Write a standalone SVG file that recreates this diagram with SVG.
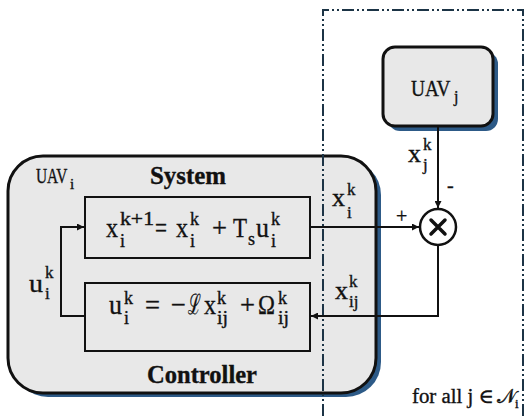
<svg xmlns="http://www.w3.org/2000/svg" width="525" height="416" viewBox="0 0 525 416">
<style>
.tx{font-family:"Liberation Serif","DejaVu Serif",serif;fill:#111;stroke:#111;stroke-width:0.35}
.eq{font-size:28px}
.sc{font-size:18px}
.lb{font-size:26px}
.ls{font-size:17px}
.bd{font-weight:bold;font-size:25px}
.box{fill:#e8e8e8;stroke:#111;stroke-width:2}
.shadow{fill:#2d5a87}
.round{fill:#e8e8e8;stroke:#111;stroke-width:3}
.dd{fill:none;stroke:#1c3446;stroke-width:2;stroke-dasharray:12 3 2 3 2 3}
.ln{fill:none;stroke:#111;stroke-width:2}
</style>
<defs>
<marker id="ah" viewBox="0 0 10 10" refX="10" refY="5" markerWidth="9" markerHeight="7" markerUnits="userSpaceOnUse" orient="auto">
<path d="M0,0 L10,5 L0,10 Z" fill="#111"/>
</marker>
</defs>
<rect width="525" height="416" fill="#ffffff"/>

<g id="uavi">
<rect class="shadow" x="13" y="160" width="368" height="237" rx="35"/>
<rect class="round" x="8" y="156" width="368" height="237" rx="35"/>
<text class="tx" transform="translate(36,183) scale(0.7,1)" font-size="22">UAV</text>
<text class="tx" x="70" y="189" font-size="15">i</text>
<text class="tx bd" x="150" y="184" textLength="76" lengthAdjust="spacingAndGlyphs">System</text>
<text class="tx bd" x="147" y="383" textLength="110" lengthAdjust="spacingAndGlyphs">Controller</text>
</g>

<g id="system">
<rect class="box" x="85" y="197" width="225" height="61"/>
<text class="tx eq" x="106" y="237" textLength="12" lengthAdjust="spacingAndGlyphs">x</text>
<text class="tx sc" x="120" y="247">i</text>
<text class="tx sc" x="120" y="225" textLength="34" lengthAdjust="spacingAndGlyphs">k+1</text>
<text class="tx eq" x="155" y="237" textLength="12" lengthAdjust="spacingAndGlyphs">=</text>
<text class="tx eq" x="176" y="237" textLength="12" lengthAdjust="spacingAndGlyphs">x</text>
<text class="tx sc" x="190" y="247">i</text>
<text class="tx sc" x="190" y="225">k</text>
<text class="tx eq" x="212" y="237" textLength="15" lengthAdjust="spacingAndGlyphs">+</text>
<text class="tx" transform="translate(233,237) scale(0.82,1)" font-size="28">T</text>
<text class="tx sc" x="248" y="245">s</text>
<text class="tx eq" x="256" y="237" textLength="13" lengthAdjust="spacingAndGlyphs">u</text>
<text class="tx sc" x="271" y="247">i</text>
<text class="tx sc" x="271" y="225">k</text>
</g>

<g id="controller">
<rect class="box" x="85" y="283" width="225" height="68"/>
<text class="tx eq" x="109" y="314" textLength="13" lengthAdjust="spacingAndGlyphs">u</text>
<text class="tx sc" x="124" y="324">i</text>
<text class="tx sc" x="124" y="304">k</text>
<text class="tx eq" x="145" y="314" textLength="15" lengthAdjust="spacingAndGlyphs">=</text>
<text class="tx eq" x="171" y="314" textLength="15" lengthAdjust="spacingAndGlyphs">−</text>
<text class="tx" transform="translate(188,314) scale(0.55,1)" font-size="28">ℒ</text>
<text class="tx eq" x="204" y="314" textLength="12" lengthAdjust="spacingAndGlyphs">x</text>
<text class="tx sc" x="217" y="324" textLength="11" lengthAdjust="spacingAndGlyphs">ij</text>
<text class="tx sc" x="217" y="304">k</text>
<text class="tx eq" x="240" y="314" textLength="15" lengthAdjust="spacingAndGlyphs">+</text>
<text class="tx eq" x="258" y="314" textLength="17" lengthAdjust="spacingAndGlyphs">Ω</text>
<text class="tx sc" x="278" y="324" textLength="11" lengthAdjust="spacingAndGlyphs">ij</text>
<text class="tx sc" x="278" y="304">k</text>
</g>

<g id="region">
<path class="dd" d="M323,416 L323,10 L523,10 L523,416"/>
<text class="tx" x="412" y="403" font-size="20" textLength="82" lengthAdjust="spacingAndGlyphs">for all j ∈</text>
<text class="tx" x="497" y="403" font-size="20">𝒩</text>
<text class="tx" x="515" y="408" font-size="13">i</text>
</g>

<g id="uavj">
<rect class="shadow" x="388" y="52" width="110" height="79" rx="12"/>
<rect class="round" x="383" y="47" width="110" height="79" rx="12"/>
<text class="tx" transform="translate(411,96) scale(0.84,1)" font-size="23">UAV</text>
<text class="tx" x="454" y="102" font-size="16">j</text>
</g>

<g id="sum">
<circle cx="438" cy="227" r="18" fill="#ffffff" stroke="#111" stroke-width="2.5"/>
<path d="M431,220 L445,234 M445,220 L431,234" stroke="#111" stroke-width="3.5" stroke-linecap="round"/>
</g>

<g id="connectors">
<path class="ln" d="M438,127 L438,208" marker-end="url(#ah)"/>
<path class="ln" d="M310,227 L419,227" marker-end="url(#ah)"/>
<path class="ln" d="M438,245 L438,316 L311,316" marker-end="url(#ah)"/>
<path class="ln" d="M85,316 L61,316 L61,227 L84,227" marker-end="url(#ah)"/>
<text class="tx lb" x="408" y="162" textLength="13" lengthAdjust="spacingAndGlyphs">x</text>
<text class="tx ls" x="423" y="150">k</text>
<text class="tx ls" x="423" y="170">j</text>
<text class="tx" x="447" y="192" font-size="20">-</text>
<text class="tx lb" x="332" y="206" textLength="13" lengthAdjust="spacingAndGlyphs">x</text>
<text class="tx ls" x="347" y="195">k</text>
<text class="tx ls" x="347" y="218">i</text>
<text class="tx" x="396" y="223" font-size="20">+</text>
<text class="tx lb" x="335" y="299" textLength="13" lengthAdjust="spacingAndGlyphs">x</text>
<text class="tx ls" x="349" y="287">k</text>
<text class="tx ls" x="349" y="307">ij</text>
<text class="tx lb" x="29" y="292" textLength="14" lengthAdjust="spacingAndGlyphs">u</text>
<text class="tx ls" x="45" y="278">k</text>
<text class="tx ls" x="45" y="299">i</text>
</g>
</svg>
